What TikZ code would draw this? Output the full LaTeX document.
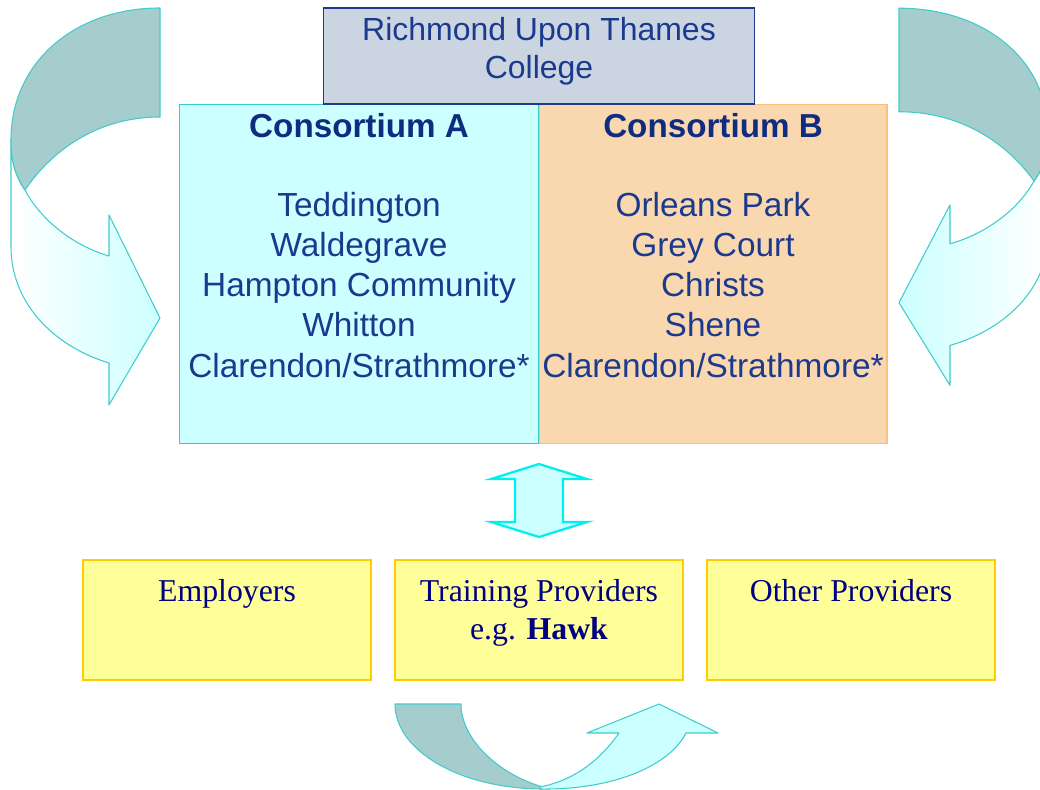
\documentclass[tikz,border=0pt]{standalone}
\usepackage{fontspec}
\setmainfont{Liberation Serif}
\newfontfamily\helv{Liberation Sans}
\usetikzlibrary{shadings}

\definecolor{bandDark}{HTML}{A5CDCD}
\definecolor{bandEdge}{HTML}{40CCCC}
\definecolor{paleCyan}{HTML}{CCFFFF}
\definecolor{brightCyan}{HTML}{00F0F0}
\definecolor{collegeFill}{HTML}{CBD5E1}
\definecolor{collegeEdge}{HTML}{1F3A8A}
\definecolor{consAEdge}{HTML}{33CCCC}
\definecolor{consBFill}{HTML}{F9D8B0}
\definecolor{consBEdge}{HTML}{FBBF80}
\definecolor{provFill}{HTML}{FFFF99}
\definecolor{provEdge}{HTML}{FFCC00}
\definecolor{sansText}{HTML}{1B3A8E}
\definecolor{titleText}{HTML}{0F2C80}
\definecolor{serifText}{HTML}{000080}

\tikzset{
  box/.style={draw, line width=0.6pt, inner sep=0pt, outer sep=0pt},
  collegebox/.style={box, fill=collegeFill, draw=collegeEdge,
    minimum width=8.64cm, minimum height=1.92cm},
  consbox/.style={box, minimum width=7.2cm, minimum height=6.8cm},
  provbox/.style={box, fill=provFill, draw=provEdge, line width=1pt,
    minimum width=5.76cm, minimum height=2.4cm},
  sanslabel/.style={inner sep=0pt, align=center, text=sansText,
    font={\helv\fontsize{19pt}{22.8pt}\selectfont}},
  constitle/.style={inner sep=0pt, text=titleText,
    font={\helv\bfseries\fontsize{18.9pt}{22.8pt}\selectfont}},
  seriflabel/.style={inner sep=0pt, align=center, text=serifText,
    font={\fontsize{18.1pt}{21.6pt}\selectfont}},
  bandback/.style={fill=bandDark, draw=bandEdge, line width=0.6pt, line join=round},
  bandfront/.style={draw=bandEdge, line width=0.6pt, line join=round},
}

% U-turn arrow: back band on top, front band ending in a head pointing right
\newcommand\uturnarrow[1]{%
  \path[bandfront, #1]
    (11,140) -- (11,247) .. controls (11,300) and (50,345) .. (109,363)
    -- (109,405) -- (160,318) -- (109,215) -- (109,256)
    .. controls (75,246) and (42,222) .. (25,190)
    .. controls (15,176) and (11,160) .. (11,140) -- cycle;
  \path[bandback]
    (160,8) .. controls (75,8) and (11,62) .. (11,140)
    .. controls (11,160) and (15,176) .. (25,190)
    .. controls (50,153) and (95,117) .. (160,117) -- cycle;
}

\begin{document}
\begin{tikzpicture}[x=0.02cm, y=-0.02cm]
  \clip (0,0) rectangle (1040,790);
  \fill[white] (0,0) rectangle (1040,790);

  % side arrows
  \uturnarrow{left color=white, right color=paleCyan}
  \begin{scope}[shift={(1059,0.6)}, xscale=-1, yscale=0.95]
    \uturnarrow{left color=paleCyan, right color=white}
  \end{scope}

  % consortium panels and the college above them
  \node[consbox, fill=paleCyan, draw=consAEdge] (consA) at (359,274) {};
  \node[consbox, fill=consBFill, draw=consBEdge, minimum width=6.96cm] (consB) at (713,274) {};
  \node[collegebox] (college) at (539,56) {};
  \node[sanslabel, font={\helv\fontsize{18.2pt}{21.6pt}\selectfont}] (collegeText) at (539,51)
    {Richmond Upon Thames\\College};

  \node[constitle] (titleA) at (359,126) {Consortium A};
  \node[constitle] (titleB) at (713,126) {Consortium B};
  \node[sanslabel] (listA) at (359,285)
    {Teddington\\Waldegrave\\Hampton Community\\Whitton\\Clarendon/Strathmore*};
  \node[sanslabel] (listB) at (713,285)
    {Orleans Park\\Grey Court\\Christs\\Shene\\Clarendon/Strathmore*};

  % two-way link between the consortia and the providers
  \path[fill=paleCyan, draw=brightCyan, line width=1.3pt, line join=miter]
    (539,464) -- (587,479) -- (563,479) -- (563,522) -- (587,522)
    -- (539,537) -- (491,522) -- (515,522) -- (515,479) -- (491,479) -- cycle;

  % providers
  \node[provbox] (employers) at (227,620) {};
  \node[provbox] (training) at (539,620) {};
  \node[provbox] (other) at (851,620) {};
  \node[seriflabel, anchor=base] (employersText) at (227,601) {Employers};
  \node[seriflabel] (trainingText) at (539,613) {Training Providers\\e.g. \textbf{Hawk}};
  \node[seriflabel, anchor=base] (otherText) at (851,601) {Other Providers};

  % arrow under the providers
  \path[bandback]
    (395,704) .. controls (395,751) and (461,789) .. (543,789)
    -- (543,787) .. controls (500,775) and (461,740) .. (461,704) -- cycle;
  \path[bandfront, fill=paleCyan]
    (540,789) .. controls (615,790) and (670,765) .. (686,733)
    -- (718,733) -- (659,704) -- (587,733) -- (619,733)
    .. controls (600,760) and (575,780) .. (540,787) -- cycle;
\end{tikzpicture}
\end{document}
